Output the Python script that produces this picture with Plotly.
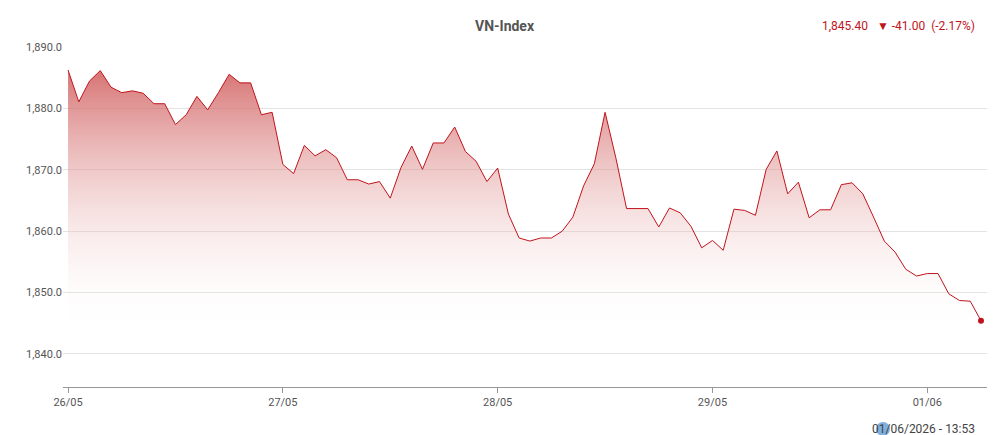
import plotly.graph_objects as go

values = [1886.3,1881.1,1884.5,1886.2,1883.5,1882.6,1882.9,1882.5,1880.8,1880.8,
          1877.4,1879.0,1882.0,1879.8,1882.6,1885.6,1884.2,1884.2,1879.0,1879.4,
          1870.9,1869.4,1874.0,1872.3,1873.3,1872.0,1868.4,1868.4,1867.7,1868.1,
          1865.4,1870.4,1873.9,1870.1,1874.4,1874.4,1877.0,1873.0,1871.4,1868.1,
          1870.3,1862.8,1858.9,1858.4,1858.9,1858.9,1860.0,1862.3,1867.4,1871.0,
          1879.4,1872.0,1863.7,1863.7,1863.7,1860.7,1863.8,1863.0,1860.8,1857.3,
          1858.5,1856.9,1863.6,1863.4,1862.6,1870.1,1873.1,1866.1,1868.0,1862.2,
          1863.5,1863.5,1867.6,1867.9,1866.1,1862.3,1858.4,1856.6,1853.8,1852.7,
          1853.1,1853.1,1849.8,1848.7,1848.6,1845.4]
tick_pos = [0, 20, 40, 60, 80]
tick_labels = ["26/05", "27/05", "28/05", "29/05", "01/06"]
y_ticks = [1840, 1850, 1860, 1870, 1880, 1890]
baseline = 1843
x = list(range(len(values)))

fig = go.Figure()
fig.add_trace(go.Scatter(x=x, y=[baseline]*len(values), mode="lines",
                         line=dict(width=0), hoverinfo="skip", showlegend=False))
fig.add_trace(go.Scatter(x=x, y=values, mode="lines", fill="tonexty",
                         line=dict(color="#c0141c", width=1),
                         fillgradient=dict(type="vertical",
                                           colorscale=[[0, "rgba(255,255,255,0)"],
                                                       [1, "rgba(205,80,80,0.8)"]]),
                         showlegend=False))
fig.add_trace(go.Scatter(x=[x[-1]], y=[values[-1]], mode="markers",
                         marker=dict(color="#c0141c", size=6), showlegend=False))

fig.update_layout(
    width=1007, height=435, paper_bgcolor="white", plot_bgcolor="white",
    margin=dict(l=55, r=28, t=39, b=56),
    font=dict(family="Roboto, Arial, sans-serif", color="#555", size=11),
    xaxis=dict(range=[-0.47, 85.56], tickvals=tick_pos, ticktext=tick_labels,
               showgrid=False, showline=True, linecolor="#999", ticks="outside",
               ticklen=5, tickcolor="#999", zeroline=False, tickfont=dict(size=11),
               automargin=False),
    yaxis=dict(range=[1834.6, 1890.05], tickvals=y_ticks, tickformat=",.1f",
               gridcolor="#e3e3e3", zeroline=False, showline=False, ticks="",
               tickfont=dict(size=11), automargin=False),
)
fig.add_annotation(text="<b>VN-Index</b>", x=0.5, y=1, yref="paper", xref="paper",
                   yanchor="middle", yshift=21, showarrow=False,
                   font=dict(size=14, color="#555"), xanchor="center", xshift=-20)
fig.add_annotation(text="1,845.40   ▼ -41.00  (-2.17%)", x=1, xref="paper", y=1, yref="paper",
                   xanchor="right", yanchor="middle", yshift=21, xshift=-10, showarrow=False,
                   font=dict(size=12, color="#c0141c"))
fig.add_annotation(text="01/06/2026 - 13:53", x=1, xref="paper", y=0, yref="paper",
                   xanchor="right", yanchor="middle", yshift=-42, xshift=-10, showarrow=False,
                   font=dict(size=12, color="#444"))
fig.add_shape(type="circle", xref="paper", yref="paper",
              x0=(868-55)/924, x1=(882-55)/924, y0=-(428-379)/340, y1=-(414-379)/340,
              fillcolor="#7fb0e0", line=dict(width=0))
fig.write_html("out.html")
